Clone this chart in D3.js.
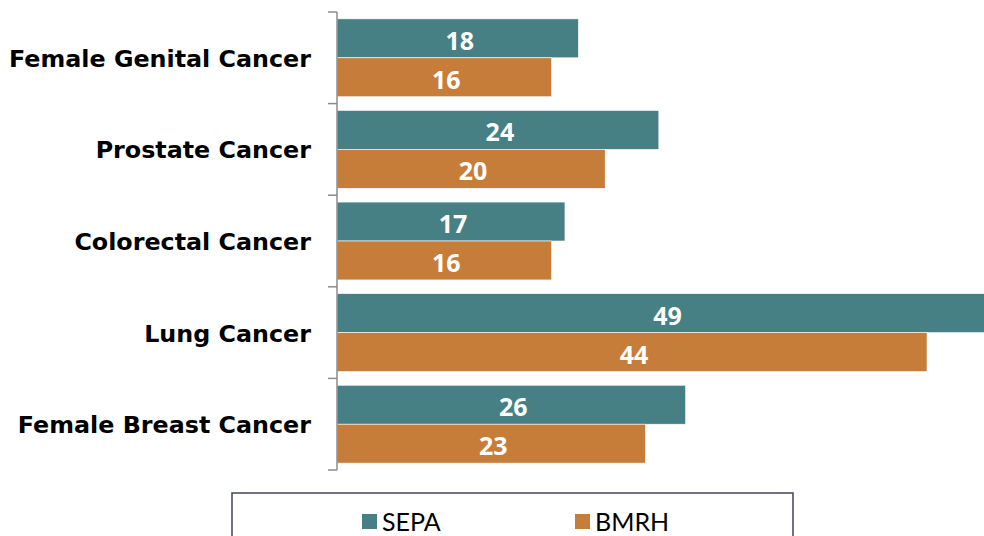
<!DOCTYPE html>
<html><head><meta charset="utf-8">
<script src="https://cdn.jsdelivr.net/npm/d3@7"></script>
<style>body{margin:0;background:#fff;overflow:hidden}svg{display:block}</style>
</head><body>
<svg id="chart" width="984" height="536"></svg>
<script>
const categories = ["Female Genital Cancer","Prostate Cancer","Colorectal Cancer","Lung Cancer","Female Breast Cancer"];
const seriesNames = ["SEPA","BMRH"];
const sepaValues = [18,24,17,49,26];
const bmrhValues = [16,20,16,44,23];
const colors = ["#467f84","#c77d3a"];

const svg = d3.select("#chart");
const axisX = 337;
const y = d3.scaleBand().domain(categories).range([12,470]).paddingInner(0.15).paddingOuter(0.075);
const yBand = d3.scaleBand().domain(categories).range([12,470]);
const ySub = d3.scaleBand().domain(seriesNames).range([0,y.bandwidth()]);
const x = d3.scaleLinear().domain([0,44]).range([axisX,927]);

const data = categories.map((c,i)=>({cat:c, vals:[{s:"SEPA",v:sepaValues[i]},{s:"BMRH",v:bmrhValues[i]}]}));

const g = svg.selectAll("g.cat").data(data).enter().append("g").attr("class","cat")
  .attr("transform",d=>`translate(0,${y(d.cat)})`);
g.selectAll("rect").data(d=>d.vals).enter().append("rect")
  .attr("x",x(0)).attr("y",d=>ySub(d.s)).attr("width",d=>x(d.v)-x(0)).attr("height",ySub.bandwidth())
  .attr("fill",(d,i)=>colors[i]).attr("stroke","#fff").attr("stroke-width",0.6);
g.selectAll("text.val").data(d=>d.vals).enter().append("text").attr("class","val")
  .attr("x",d=>(x(d.v)+x(0))/2+2).attr("y",d=>ySub(d.s)+ySub.bandwidth()/2+1.5)
  .attr("text-anchor","middle").attr("dominant-baseline","central")
  .attr("fill","#fff").attr("font-family","'Open Sans', Lato, sans-serif").attr("font-weight","bold").attr("font-size","25px")
  .text(d=>d.v);

// axis
const ax = svg.append("g").attr("transform",`translate(${axisX},0)`);
ax.append("line").attr("x1",0).attr("x2",0).attr("y1",12).attr("y2",470).attr("stroke","#8c8c8c").attr("stroke-width",1.5);
const bounds = [12].concat(categories.map(c=>yBand(c)+yBand.bandwidth()));
ax.selectAll("line.tick").data(bounds).enter().append("line").attr("class","tick")
  .attr("x1",-9).attr("x2",0).attr("y1",d=>d).attr("y2",d=>d).attr("stroke","#8c8c8c").attr("stroke-width",1.5);
ax.selectAll("text.cat").data(categories).enter().append("text").attr("class","cat")
  .attr("x",-26).attr("y",d=>yBand(d)+yBand.bandwidth()/2+1)
  .attr("text-anchor","end").attr("dominant-baseline","central")
  .attr("fill","#000").attr("font-family","'DejaVu Sans', sans-serif").attr("font-weight","bold").attr("font-size","23.8px")
  .text(d=>d);

// legend
const lg = svg.append("g");
lg.append("rect").attr("x",232).attr("y",493).attr("width",561).attr("height",60)
  .attr("fill","#fff").attr("stroke","#3f4654").attr("stroke-width",1.5);
const legX = [362,575];
seriesNames.forEach((s,i)=>{
  lg.append("rect").attr("x",legX[i]).attr("y",514).attr("width",15).attr("height",15).attr("fill",colors[i]);
  lg.append("text").attr("x",legX[i]+20).attr("y",531).attr("font-family","Lato, 'Open Sans', sans-serif")
    .attr("font-size","25px").attr("fill","#000").text(s);
});
</script>
</body></html>
